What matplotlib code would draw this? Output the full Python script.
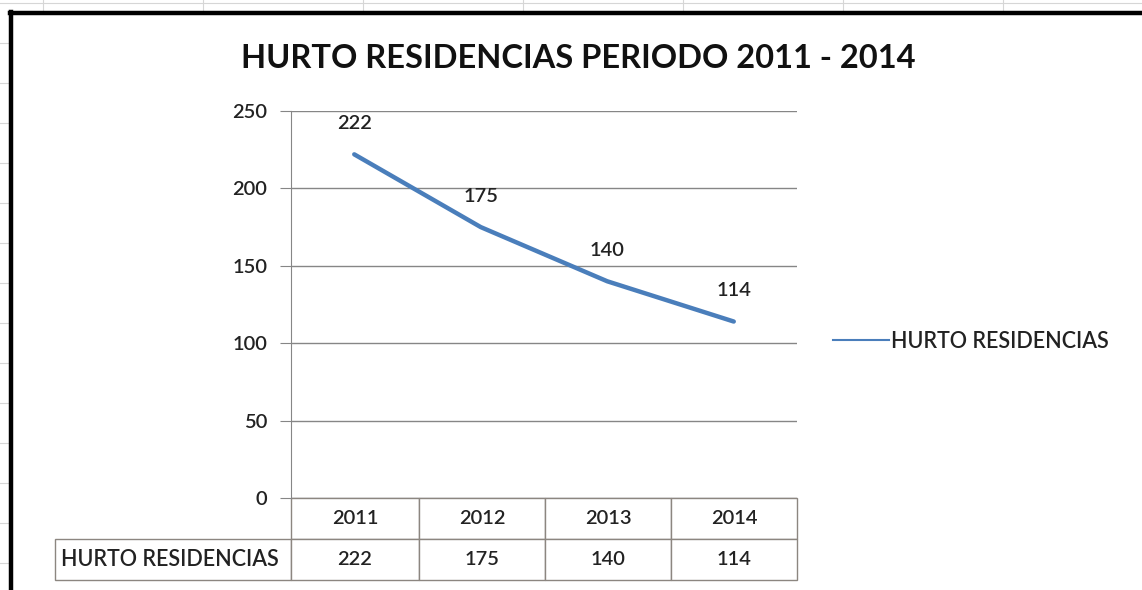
import matplotlib
matplotlib.use('Agg')
import matplotlib.pyplot as plt
from matplotlib.lines import Line2D

# datos
years = ['2011', '2012', '2013', '2014']
hurtos = [222, 175, 140, 114]
serie = 'HURTO RESIDENCIAS'
titulo = 'HURTO RESIDENCIAS PERIODO 2011 - 2014'
y_ticks = [0, 50, 100, 150, 200, 250]

W, H = 1142, 590
plt.rcParams['font.family'] = ['Lato', 'DejaVu Sans']
fig = plt.figure(figsize=(W / 100, H / 100), dpi=100)

txt_c = '#222222'
fs = 14.5   # numbers
fs_lab = 15.5  # series name
fw = 'semibold'

def px(x0, y0, x1, y1):
    # pixel box (top-left origin) -> figure fraction
    return [x0 / W, 1 - y1 / H, (x1 - x0) / W, (y1 - y0) / H]

def fline(xs, ys, **kw):
    fig.add_artist(Line2D([v / W for v in xs], [1 - v / H for v in ys],
                          transform=fig.transFigure, **kw))

# spreadsheet grid behind the chart
grid_c = '#d6d6d6'
fline([0, W], [3, 3], color=grid_c, lw=0.8)
for cx in range(43, W, 160):
    fline([cx, cx], [0, 12], color=grid_c, lw=0.8)
for ry in range(43, H, 40):
    fline([0, 8], [ry, ry], color=grid_c, lw=0.8)

# chart frame
fline([10, W + 5], [12.5, 12.5], color='black', lw=3.2, solid_capstyle='projecting')
fline([10.5, 10.5], [12, H + 5], color='black', lw=3.2, solid_capstyle='projecting')

gray = '#868686'
ax = fig.add_axes(px(291, 111, 797, 498))
x = list(range(len(years)))
ax.plot(x, hurtos, color='#4A7EBB', lw=3.2, solid_capstyle='round', zorder=3)
ax.set_xlim(-0.5, len(years) - 0.5)
ax.set_ylim(0, 250)
ax.set_yticks(y_ticks)
ax.set_xticks([])
ax.yaxis.grid(True, color=gray, lw=1)
ax.set_axisbelow(True)
for s in ['top', 'right', 'bottom']:
    ax.spines[s].set_visible(False)
ax.spines['left'].set_color(gray)
ax.tick_params(axis='y', length=8, color=gray, labelsize=fs, pad=9, labelcolor=txt_c)
for lab in ax.get_yticklabels():
    lab.set_fontweight(fw)

for i, v in enumerate(hurtos):
    ax.annotate(str(v), (i, v), xytext=(0, 22), textcoords='offset points',
                ha='center', va='center', fontsize=fs, fontweight=fw, color=txt_c)

# data table under the axis
cells = [[''] + years, [serie] + [str(v) for v in hurtos]]
widths = [236, 128, 126, 126, 126]
tot = sum(widths)
tab = ax.table(cellText=cells, colWidths=[w / tot for w in widths],
               cellLoc='center', bbox=[(55 - 291) / 506, (498 - 580) / 387, 742 / 506, 82 / 387])
tab.auto_set_font_size(False)
tab.set_fontsize(fs)
for (r, c), cell in tab.get_celld().items():
    cell.set_edgecolor('#8c8680')
    cell.set_linewidth(1)
    cell.get_text().set_color(txt_c)
    cell.get_text().set_fontweight(fw)
    if r == 0 and c == 0:
        cell.visible_edges = ''
    if c == 0:
        cell.get_text().set_ha('left')
        cell.get_text().set_fontsize(fs_lab)
        cell.PAD = 0.025

# legend
h = Line2D([], [], color='#4A7EBB', lw=1.5)
leg = fig.legend([h], [serie], loc='center left', bbox_to_anchor=(833 / W, 1 - 341 / H),
                 frameon=False, fontsize=fs_lab, handlelength=2.6, handletextpad=0.1,
                 borderpad=0, borderaxespad=0, labelcolor=txt_c)
for t in leg.get_texts():
    t.set_fontweight(fw)

fig.text(578 / W, 1 - 58 / H, titulo, ha='center', va='center', fontsize=23.5,
         fontweight='bold', color='#111111')

fig.savefig('out.png', dpi=100)
